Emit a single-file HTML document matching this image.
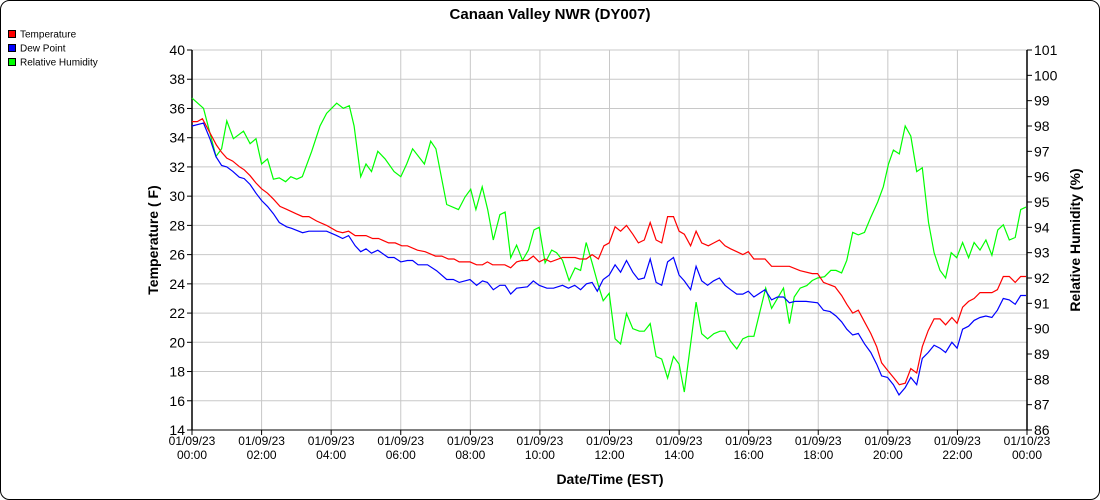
<!DOCTYPE html>
<html><head><meta charset="utf-8"><style>
html,body{margin:0;padding:0;background:#fff;}
#wrap{position:relative;width:1100px;height:500px;overflow:hidden;font-family:"Liberation Sans",Arial,sans-serif;}
svg text{font-family:"Liberation Sans",Arial,sans-serif;}
</style></head><body>
<div id="wrap">
<svg id="chart" width="1100" height="500" viewBox="0 0 1100 500">
<rect x="0.5" y="0.5" width="1099" height="499" rx="9" ry="9" fill="#fff" stroke="#000" stroke-width="1"/>
<text x="550" y="19" text-anchor="middle" font-size="15" font-weight="bold">Canaan Valley NWR (DY007)</text>
<g>
<g><rect x="8.5" y="30.5" width="7" height="7" fill="#f00" stroke="#000"/><text x="20" y="37.5" font-size="10">Temperature</text></g>
<g><rect x="8.5" y="44.5" width="7" height="7" fill="#00f" stroke="#000"/><text x="20" y="51.5" font-size="10">Dew Point</text></g>
<g><rect x="8.5" y="58.5" width="7" height="7" fill="#0f0" stroke="#000"/><text x="20" y="65.5" font-size="10">Relative Humidity</text></g>
</g>
<g id="grid"></g>
<g id="axes"></g>
<g id="series"></g>
<text transform="translate(158,240) rotate(-90)" text-anchor="middle" font-size="14" font-weight="bold">Temperature ( F)</text>
<text transform="translate(1080,240) rotate(-90)" text-anchor="middle" font-size="14" font-weight="bold">Relative Humidity (%)</text>
<text x="610" y="484" text-anchor="middle" font-size="14" font-weight="bold">Date/Time (EST)</text>
</svg>
</div>
<script>
const xTickLabels = [["01/09/23","00:00"],["01/09/23","02:00"],["01/09/23","04:00"],["01/09/23","06:00"],["01/09/23","08:00"],["01/09/23","10:00"],["01/09/23","12:00"],["01/09/23","14:00"],["01/09/23","16:00"],["01/09/23","18:00"],["01/09/23","20:00"],["01/09/23","22:00"],["01/10/23","00:00"]];
const leftTicks = [14,16,18,20,22,24,26,28,30,32,34,36,38,40];
const rightTicks = [86,87,88,89,90,91,92,93,94,95,96,97,98,99,100,101];

const tempHours = [0,0.15,0.3,0.5,0.7,0.85,1.0,1.17,1.37,1.5,1.67,1.84,2.0,2.17,2.34,2.53,2.72,2.99,3.18,3.36,3.58,3.87,4.16,4.33,4.5,4.69,5.0,5.19,5.36,5.65,5.84,6.03,6.19,6.48,6.7,7.0,7.18,7.37,7.53,7.68,7.99,8.18,8.35,8.49,8.64,8.99,9.16,9.33,9.48,9.64,9.81,9.98,10.15,10.31,10.65,11.01,11.15,11.33,11.5,11.68,11.84,11.99,12.16,12.32,12.49,12.67,12.83,13.0,13.17,13.34,13.5,13.67,13.84,14.0,14.15,14.33,14.49,14.65,14.84,15.0,15.16,15.32,15.48,15.66,15.83,15.99,16.15,16.47,16.66,17.17,17.48,17.83,17.98,18.15,18.48,18.67,18.82,18.99,19.15,19.33,19.51,19.68,19.82,20.02,20.16,20.33,20.5,20.66,20.83,20.99,21.16,21.33,21.5,21.66,21.84,21.99,22.15,22.32,22.48,22.65,22.99,23.15,23.32,23.49,23.66,23.82,23.97];
const tempValues = [35.1,35.1,35.3,34.4,33.5,33.0,32.6,32.4,32.0,31.8,31.4,30.9,30.5,30.2,29.8,29.3,29.1,28.8,28.6,28.6,28.3,28.0,27.6,27.5,27.6,27.3,27.3,27.1,27.1,26.8,26.8,26.6,26.6,26.3,26.2,25.9,25.9,25.7,25.7,25.5,25.5,25.3,25.3,25.5,25.3,25.3,25.1,25.5,25.6,25.6,25.9,25.5,25.7,25.5,25.8,25.8,25.7,25.7,26.0,25.7,26.6,26.8,27.9,27.6,28.0,27.4,26.8,27.0,28.2,27.0,26.8,28.6,28.6,27.6,27.4,26.6,27.6,26.8,26.6,26.8,27.0,26.6,26.4,26.2,26.0,26.2,25.7,25.7,25.2,25.2,24.9,24.7,24.7,24.1,23.8,23.2,22.6,22.0,22.2,21.4,20.6,19.7,18.6,18.0,17.6,17.1,17.2,18.2,17.9,19.7,20.8,21.6,21.6,21.2,21.7,21.3,22.4,22.8,23.0,23.4,23.4,23.6,24.5,24.5,24.1,24.5,24.5];

const dewHours = [0,0.33,0.52,0.69,0.85,1.0,1.17,1.36,1.5,1.67,1.84,2.0,2.17,2.34,2.51,2.72,2.86,3.18,3.36,3.87,4.16,4.33,4.5,4.69,4.85,5.0,5.16,5.34,5.64,5.81,6.0,6.19,6.34,6.5,6.77,7.03,7.32,7.51,7.68,7.99,8.18,8.35,8.49,8.66,8.85,9.0,9.16,9.33,9.64,9.81,9.98,10.2,10.39,10.65,10.82,11.0,11.17,11.34,11.5,11.65,11.82,11.99,12.16,12.32,12.49,12.67,12.83,13.0,13.17,13.34,13.5,13.67,13.84,14.0,14.15,14.33,14.49,14.65,14.82,14.99,15.16,15.32,15.48,15.66,15.83,15.99,16.15,16.47,16.66,16.83,17.0,17.17,17.33,17.65,17.98,18.15,18.34,18.51,18.67,18.82,18.99,19.15,19.33,19.51,19.68,19.82,19.99,20.16,20.32,20.5,20.66,20.83,20.99,21.16,21.33,21.5,21.66,21.84,21.99,22.15,22.32,22.48,22.65,22.82,22.99,23.15,23.32,23.49,23.66,23.82,23.97];
const dewValues = [34.8,35.0,33.9,32.7,32.1,32.0,31.7,31.3,31.2,30.8,30.2,29.7,29.3,28.8,28.2,27.9,27.8,27.5,27.6,27.6,27.3,27.1,27.3,26.6,26.2,26.4,26.1,26.3,25.8,25.8,25.5,25.6,25.6,25.3,25.3,24.9,24.3,24.3,24.1,24.3,23.9,24.2,24.1,23.6,23.9,23.9,23.3,23.7,23.8,24.2,23.9,23.7,23.7,23.9,23.7,23.9,23.6,24.0,24.1,23.5,24.3,24.6,25.3,24.8,25.6,24.8,24.3,24.4,25.7,24.1,23.9,25.5,25.8,24.6,24.2,23.6,25.2,24.2,23.9,24.2,24.4,23.9,23.6,23.3,23.3,23.5,23.1,23.6,22.9,23.1,23.1,22.7,22.8,22.8,22.7,22.2,22.1,21.8,21.4,20.9,20.5,20.6,19.9,19.3,18.5,17.7,17.6,17.1,16.4,16.9,17.6,17.1,18.9,19.3,19.8,19.6,19.3,20.0,19.6,20.9,21.1,21.5,21.7,21.8,21.7,22.2,23.0,22.9,22.6,23.2,23.2];

const rhHours = [0,0.33,0.69,0.85,1.0,1.19,1.48,1.67,1.84,2.0,2.17,2.34,2.51,2.69,2.84,3.01,3.17,3.44,3.68,3.87,4.16,4.35,4.52,4.66,4.85,5.0,5.16,5.34,5.55,5.81,6.0,6.17,6.34,6.68,6.86,7.01,7.32,7.66,7.85,8.01,8.16,8.34,8.5,8.66,8.85,9.0,9.16,9.33,9.5,9.67,9.83,9.98,10.15,10.34,10.48,10.65,10.84,11.01,11.17,11.33,11.5,11.68,11.82,11.99,12.16,12.32,12.49,12.67,12.86,13.0,13.17,13.34,13.5,13.67,13.84,14.0,14.15,14.49,14.65,14.82,15.0,15.18,15.32,15.48,15.66,15.83,15.99,16.15,16.33,16.49,16.66,16.83,17.0,17.17,17.31,17.48,17.67,17.83,17.98,18.18,18.36,18.51,18.67,18.82,18.99,19.15,19.33,19.51,19.71,19.87,20.02,20.16,20.33,20.5,20.66,20.83,20.99,21.17,21.33,21.5,21.66,21.82,21.98,22.15,22.32,22.48,22.65,22.82,22.99,23.16,23.32,23.49,23.66,23.82,23.97];
const rhValues = [99.1,98.7,96.8,97.1,98.2,97.5,97.8,97.3,97.5,96.5,96.7,95.9,95.95,95.8,96.0,95.9,96.0,97.0,98.0,98.5,98.9,98.7,98.8,98.0,96.0,96.5,96.2,97.0,96.7,96.2,96.0,96.5,97.1,96.5,97.4,97.1,94.9,94.7,95.2,95.5,94.7,95.6,94.7,93.5,94.5,94.6,92.8,93.3,92.7,93.1,93.9,94.0,92.6,93.1,93.0,92.7,91.9,92.4,92.3,93.4,92.6,91.7,91.1,91.4,89.6,89.4,90.6,90.0,89.9,89.9,90.2,88.9,88.8,88.05,88.9,88.6,87.5,91.05,89.8,89.6,89.8,89.9,89.9,89.5,89.2,89.6,89.7,89.7,90.7,91.6,90.8,91.2,91.6,90.2,91.25,91.6,91.7,91.9,92.0,92.05,92.3,92.3,92.2,92.7,93.8,93.7,93.8,94.4,95.0,95.6,96.5,97.05,96.9,98.0,97.6,96.2,96.35,94.2,93.0,92.3,92.0,93.0,92.8,93.4,92.8,93.4,93.1,93.5,92.9,93.9,94.1,93.5,93.6,94.7,94.8];

const NS = "http://www.w3.org/2000/svg";
const L = 192, R = 1027, T = 50, B = 430;
function xScale(h){ return L + (R - L) * h / 24; }
function yLeft(v){ return B - (B - T) * (v - 14) / 26; }
function yRight(v){ return B - (B - T) * (v - 86) / 15; }
function mk(tag, attrs, parent){ const e = document.createElementNS(NS, tag); for (const k in attrs) e.setAttribute(k, attrs[k]); parent.appendChild(e); return e; }

const grid = document.getElementById('grid');
const axes = document.getElementById('axes');
const series = document.getElementById('series');

xTickLabels.forEach((lab, i) => {
  const x = xScale(i * 2);
  const gl = mk('line', {x1: x, x2: x, y1: T, y2: B, stroke: '#c8c8c8', 'stroke-width': 1}, grid);
  
  
  const tk = mk('line', {x1: x, x2: x, y1: B, y2: B + 5, stroke: '#000'}, axes);
  
  
  const t1 = mk('text', {x: x, y: 445, 'text-anchor': 'middle', 'font-size': 12}, axes);
  t1.textContent = lab[0];
  
  
  const t2 = mk('text', {x: x, y: 459, 'text-anchor': 'middle', 'font-size': 12}, axes);
  t2.textContent = lab[1];
  
  
});
leftTicks.forEach(v => {
  const y = yLeft(v);
  const gl = mk('line', {x1: L, x2: R, y1: y, y2: y, stroke: '#c8c8c8'}, grid);
  
  
  const tk = mk('line', {x1: L - 5, x2: L, y1: y, y2: y, stroke: '#000'}, axes);
  
  
  const tx = mk('text', {x: L - 7, y: y + 5, 'text-anchor': 'end', 'font-size': 14}, axes);
  tx.textContent = v;
  
  
});
rightTicks.forEach(v => {
  const y = yRight(v);
  const tk = mk('line', {x1: R, x2: R + 5, y1: y, y2: y, stroke: '#000'}, axes);
  
  
  const tx = mk('text', {x: R + 7, y: y + 5, 'text-anchor': 'start', 'font-size': 14}, axes);
  tx.textContent = v;
  
  
});
const al = mk('line', {x1: L, x2: L, y1: T, y2: B, stroke: '#000', 'stroke-width': 1.5}, axes);


const ar = mk('line', {x1: R, x2: R, y1: T, y2: B, stroke: '#000', 'stroke-width': 1.5}, axes);


const ab = mk('line', {x1: L, x2: R, y1: B, y2: B, stroke: '#000', 'stroke-width': 1}, axes);



function draw(hours, vals, yf, color, name){
  const pts = hours.map((h, i) => xScale(h).toFixed(1) + ',' + yf(vals[i]).toFixed(1)).join(' ');
  const p = mk('polyline', {points: pts, fill: 'none', stroke: color, 'stroke-width': 1.2}, series);
  
  
}
draw(rhHours, rhValues, yRight, '#00ff00', 'relative-humidity-line');
draw(tempHours, tempValues, yLeft, '#ff0000', 'temperature-line');
draw(dewHours, dewValues, yLeft, '#0000ff', 'dew-point-line');
</script>
</body></html>
